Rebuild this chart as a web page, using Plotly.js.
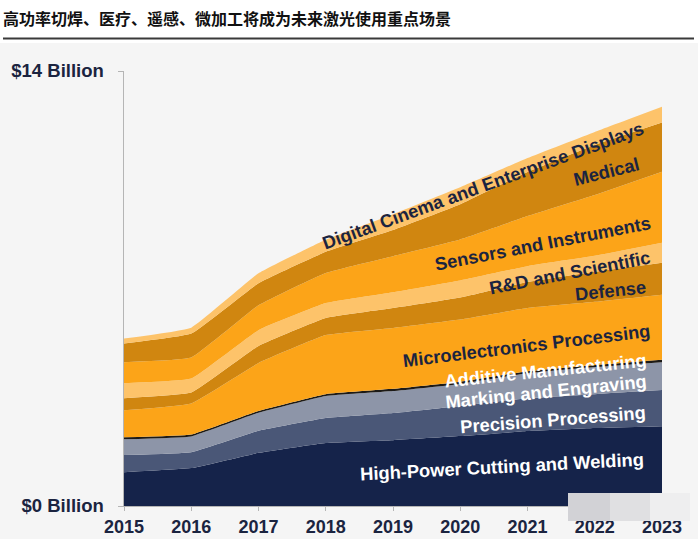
<!DOCTYPE html>
<html><head><meta charset="utf-8">
<script src="https://cdn.plot.ly/plotly-3.0.1.min.js"></script>
<style>html,body{margin:0;padding:0;background:#f5f5f5;} #chart{width:698px;height:539px;}</style>
</head><body><div id="chart"></div>
<script>
// ---- data (US$ billion) ----
const years = [2015, 2016, 2017, 2018, 2019, 2020, 2021, 2022, 2023];
const highPower  = [1.09, 1.22, 1.71, 2.03, 2.12, 2.25, 2.41, 2.51, 2.57];
const precision  = [0.55, 0.51, 0.71, 0.80, 0.87, 0.97, 1.06, 1.09, 1.16];
const marking    = [0.51, 0.51, 0.58, 0.71, 0.71, 0.71, 0.80, 0.87, 0.90];
const additive   = [0.06, 0.06, 0.06, 0.06, 0.07, 0.07, 0.07, 0.07, 0.08];
const micro      = [0.87, 1.00, 1.54, 1.90, 1.96, 2.00, 2.03, 2.03, 2.09];
const defense    = [0.39, 0.35, 0.55, 0.55, 0.64, 0.71, 0.84, 0.97, 1.03];
const rnd        = [0.48, 0.45, 0.51, 0.48, 0.51, 0.55, 0.51, 0.51, 0.64];
const sensors    = [0.68, 0.68, 0.80, 0.97, 1.16, 1.32, 1.61, 1.96, 2.29];
const medical    = [0.60, 0.77, 0.71, 0.68, 0.84, 1.13, 1.42, 1.61, 1.58];
const digital    = [0.16, 0.19, 0.32, 0.39, 0.51, 0.55, 0.45, 0.42, 0.51];

const seriesNames = ["High-Power Cutting and Welding", "Precision Processing", "Marking and Engraving",
  "Additive Manufacturing", "Microelectronics Processing", "Defense", "R&D and Scientific",
  "Sensors and Instruments", "Medical", "Digital Cinema and Enterprise Displays"];
const yTickVals = [0, 14];
const yTickText = ["$0 Billion", "$14 Billion"];
const chartTitle = "高功率切焊、医疗、遥感、微加工将成为未来激光使用重点场景";

// ---- styles ----
const seriesValues = [highPower, precision, marking, additive, micro, defense, rnd, sensors, medical, digital];
const colors = ["#15234a", "#4a5777", "#8d95a8", "#1c1a17", "#fca418", "#d08610", "#fdc36a", "#fca418", "#d08610", "#fdc36a"];
const labelColors = ["#ffffff", "#ffffff", "#ffffff", "#ffffff", "#1b2440", "#1b2440", "#1b2440", "#1b2440", "#1b2440", "#1b2440"];
// label placement (data coords) and angle
const labelPos = [
  [2020.62, 1.26, -3], [2021.38, 2.77, -4.5], [2021.27, 3.67, -6], [2021.27, 4.35, -6],
  [2020.99, 5.18, -7], [2022.24, 6.92, -6], [2021.63, 7.50, -11], [2021.22, 8.46, -11],
  [2022.18, 10.75, -14], [2020.34, 10.30, -20]
];

const traces = seriesValues.map((v, i) => ({
  type: "scatter", mode: "lines", x: years, y: v, name: seriesNames[i],
  stackgroup: "one", line: {width: 0, shape: "spline", smoothing: 0.3},
  fillcolor: colors[i], hoverinfo: "skip"
}));

const annotations = seriesNames.map((n, i) => ({
  text: n, x: labelPos[i][0], y: labelPos[i][1], xref: "x", yref: "y",
  textangle: labelPos[i][2], showarrow: false,
  font: {family: "Liberation Sans, Arial, sans-serif", size: 18.3, color: labelColors[i], weight: "bold"}
}));

const px = x => (x - 124) / 538;
const py = y => (506 - y) / 435;

const shapes = [
  {type: "rect", xref: "paper", yref: "paper", x0: px(-10), x1: px(710), y0: py(43), y1: py(-10),
   fillcolor: "#ffffff", line: {width: 0}, layer: "below"},
  {type: "line", xref: "paper", yref: "paper", x0: px(3), x1: px(694), y0: py(38.5), y1: py(38.5),
   line: {color: "#3a3a3a", width: 2}},
  {type: "rect", xref: "paper", yref: "paper", x0: px(568), x1: px(610), y0: py(521), y1: py(493),
   fillcolor: "#d2d2d6", line: {width: 0}, layer: "above"},
  {type: "rect", xref: "paper", yref: "paper", x0: px(610), x1: px(650), y0: py(521), y1: py(493),
   fillcolor: "#e0e0e2", line: {width: 0}, layer: "above"},
  {type: "rect", xref: "paper", yref: "paper", x0: px(650), x1: px(690), y0: py(521), y1: py(493),
   fillcolor: "#eeeeef", line: {width: 0}, layer: "above"}
];

const layout = {
  width: 698, height: 539,
  margin: {l: 124, r: 36, t: 71, b: 33, pad: 0},
  paper_bgcolor: "#f5f5f5", plot_bgcolor: "rgba(0,0,0,0)",
  showlegend: false,
  title: {text: chartTitle, x: 3 / 698, xanchor: "left", y: 1 - 19 / 539, yanchor: "middle",
          font: {family: "Noto Sans CJK SC, sans-serif", size: 16, color: "#111111", weight: "bold"}},
  xaxis: {range: [2015, 2023], tickvals: years, ticktext: years.map(String),
          showline: true, linecolor: "#b5b5b5", linewidth: 1, ticks: "outside", ticklen: 4,
          tickcolor: "#b5b5b5", showgrid: false, zeroline: false, fixedrange: true,
          tickfont: {family: "Liberation Sans, Arial, sans-serif", size: 18, color: "#1b2440", weight: "bold"}},
  yaxis: {range: [0, 14], tickvals: yTickVals, ticktext: yTickText,
          showline: true, linecolor: "#b5b5b5", linewidth: 1.5, ticks: "outside", ticklen: 5,
          tickcolor: "#b5b5b5", showgrid: false, zeroline: false, ticklabelstandoff: 10,
          tickfont: {family: "Liberation Sans, Arial, sans-serif", size: 18.5, color: "#1b2440", weight: "bold"}},
  annotations: annotations,
  shapes: shapes
};

Plotly.newPlot("chart", traces, layout, {displayModeBar: false, staticPlot: true});
</script>
</body></html>
